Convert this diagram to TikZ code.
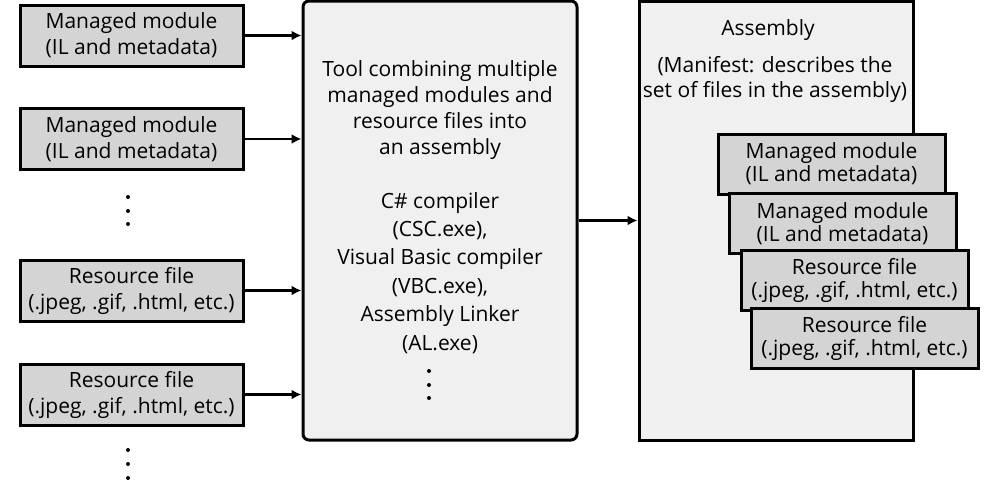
\documentclass[tikz,border=0pt]{standalone}
\usepackage{fontspec}
\setmainfont{Open Sans}
\usetikzlibrary{arrows.meta,positioning}
\tikzset{
  >={Latex[length=10pt,width=10pt]},
  srcbox/.style={
    draw, rectangle, align=center, inner sep=0pt, line width=3pt, fill=black!17,
    font=\fontsize{21}{26}\selectfont, minimum width=223pt, minimum height=61pt
  },
  stackbox/.style={srcbox, font=\fontsize{21}{23}\selectfont,
    minimum width=227pt, minimum height=60pt},
  toolbox/.style={
    draw, rectangle, rounded corners=6pt, line width=3pt, fill=black!6,
    minimum width=274pt, minimum height=439pt
  },
  asmbox/.style={
    draw, rectangle, line width=3pt, fill=black!6,
    minimum width=274pt, minimum height=439pt
  },
  txt/.style={align=center, inner sep=0pt, font=\fontsize{21}{26}\selectfont},
  link/.style={->, line width=2.5pt},
}
\begin{document}
\begin{tikzpicture}[x=1pt,y=-1pt]
  \useasboundingbox (0,0) rectangle (993,485);

  % inputs
  \node[srcbox] (mm1) at (131.5,35.5) {Managed module\\(IL and metadata)};
  \node[srcbox] (mm2) at (131.5,139) {Managed module\\(IL and metadata)};
  \node[srcbox] (rf1) at (131.5,290.5) {Resource file\\(.jpeg, .gif, .html, etc.)};
  \node[srcbox] (rf2) at (131.5,394.5) {Resource file\\(.jpeg, .gif, .html, etc.)};
  \foreach \y in {197,211,224,450,464,478}
    \fill (128,\y) circle (2pt);

  % tool
  \node[toolbox] (tool) at (440,220.5) {};
  \node[txt, anchor=north] (tooltxt) at (440,60) {Tool combining multiple\\
    managed modules and\\resource files into\\an assembly\\[28pt]
    C\# compiler\\[2.4pt](CSC.exe),\\[2.4pt]Visual Basic compiler\\[2.4pt]
    (VBC.exe),\\[2.4pt]Assembly Linker\\[2.4pt](AL.exe)};
  \foreach \y in {371,385,398}
    \fill (429,\y) circle (2pt);

  \foreach \n in {mm1,mm2,rf1,rf2}
    \draw[link] (\n.east) -- (tool.west |- \n.east);

  % assembly
  \node[asmbox] (asm) at (776,220.5) {};
  \node[txt] (asmtitle) at (768,30) {Assembly};
  \node[txt, font=\fontsize{21}{25}\selectfont] (manifest) at (775,79)
    {(Manifest: describes the\\set of files in the assembly)};
  \draw[link] (tool.east) -- (asm.west);

  \node[stackbox] (in1) at (831.5,164) {Managed module\\(IL and metadata)};
  \node[stackbox] (in2) at (842.5,223.5) {Managed module\\(IL and metadata)};
  \node[stackbox] (in3) at (854.5,280) {Resource file\\(.jpeg, .gif, .html, etc.)};
  \node[stackbox] (in4) at (864.5,338.5) {Resource file\\(.jpeg, .gif, .html, etc.)};
\end{tikzpicture}
\end{document}
